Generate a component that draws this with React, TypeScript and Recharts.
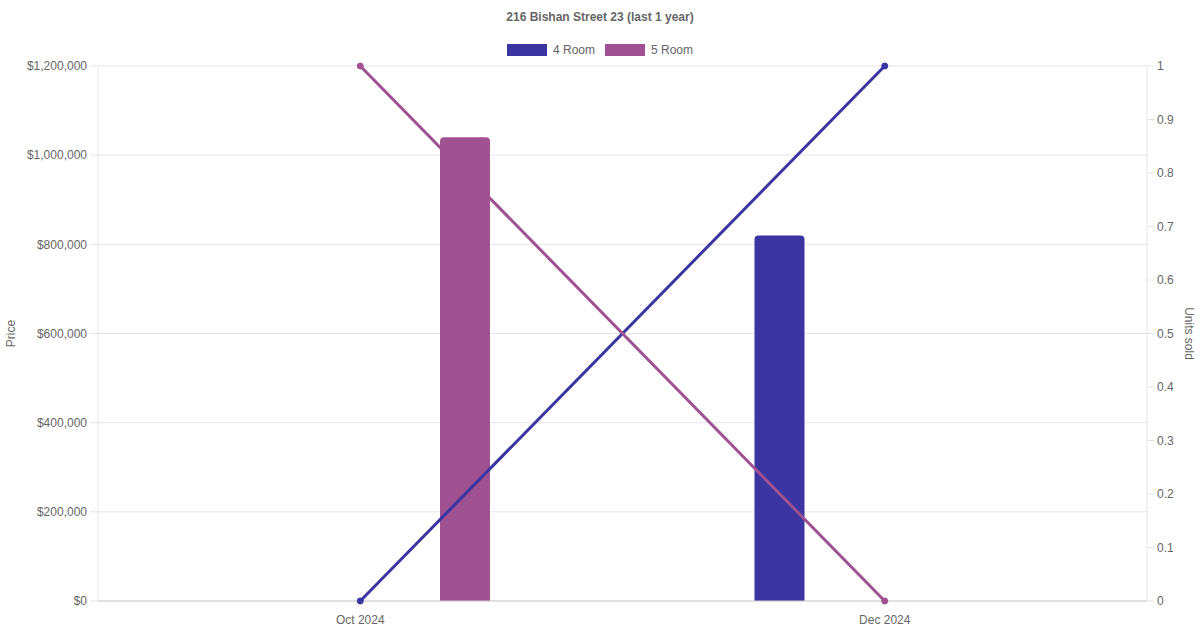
import React from "react";
import { Bar, CartesianGrid, ComposedChart, Line, XAxis, YAxis } from "recharts";

const months = ["Oct 2024", "Dec 2024"];
const price4Room = [null, 820000];
const price5Room = [1040000, null];
const units4Room = [0, 1];
const units5Room = [1, 0];
const priceTicks = [0, 200000, 400000, 600000, 800000, 1000000, 1200000];
const unitTicks = [0, 0.1, 0.2, 0.3, 0.4, 0.5, 0.6, 0.7, 0.8, 0.9, 1];

const series = [
  { name: "4 Room", color: "#3a35a0" },
  { name: "5 Room", color: "#a05192" },
];

const data = months.map((month, i) => ({
  month,
  price4: price4Room[i],
  price5: price5Room[i],
  units4: units4Room[i],
  units5: units5Room[i],
}));

const textColor = "#666";
const font = "'Liberation Sans', Arial, Helvetica, sans-serif";

function PriceLabel(props: any) {
  const { viewBox } = props;
  const cy = viewBox.y + viewBox.height / 2;
  return (
    <text
      x={11}
      y={cy}
      transform={`rotate(-90 11 ${cy})`}
      textAnchor="middle"
      dominantBaseline="central"
      fill={textColor}
      fontSize={12}
    >
      Price
    </text>
  );
}

function UnitsLabel(props: any) {
  const { viewBox } = props;
  const cy = viewBox.y + viewBox.height / 2;
  return (
    <text
      x={1189}
      y={cy}
      transform={`rotate(90 1189 ${cy})`}
      textAnchor="middle"
      dominantBaseline="central"
      fill={textColor}
      fontSize={12}
    >
      Units sold
    </text>
  );
}

export default function App() {
  return (
    <div style={{ position: "fixed", left: 0, top: 0, width: 1200, height: 630, background: "#fff", fontFamily: font }}>
      <div
        style={{
          position: "absolute",
          top: 9,
          width: 1200,
          textAlign: "center",
          fontSize: 12,
          fontWeight: "bold",
          color: textColor,
          lineHeight: "16px",
        }}
      >
        216 Bishan Street 23 (last 1 year)
      </div>
      <div
        style={{
          position: "absolute",
          top: 42,
          width: 1200,
          display: "flex",
          justifyContent: "center",
          fontSize: 12,
          color: textColor,
          lineHeight: "16px",
        }}
      >
        {series.map((s, i) => (
          <div key={s.name} style={{ display: "flex", alignItems: "center", marginLeft: i ? 10 : 0 }}>
            <div style={{ width: 40, height: 12, background: s.color, marginRight: 6 }} />
            <span>{s.name}</span>
          </div>
        ))}
      </div>
      <ComposedChart
        width={1200}
        height={630}
        data={data}
        margin={{ top: 66, right: 0, bottom: 0, left: 0 }}
        barGap={160}
        style={{ fontFamily: font }}
      >
        <CartesianGrid yAxisId="price" vertical={false} stroke="#e5e5e5" />
        <XAxis
          dataKey="month"
          height={29}
          tickLine={false}
          tickSize={0}
          tickMargin={14}
          axisLine={{ stroke: "#cfcfcf" }}
          tick={{ fill: textColor, fontSize: 12 }}
        />
        <YAxis
          yAxisId="price"
          width={98}
          domain={[0, 1200000]}
          ticks={priceTicks}
          interval={0}
          tickSize={8}
          tickMargin={3}
          tickLine={{ stroke: "#e5e5e5" }}
          axisLine={{ stroke: "#e5e5e5" }}
          tick={{ fill: textColor, fontSize: 12 }}
          tickFormatter={(v: number) => "$" + v.toLocaleString("en-US")}
          label={<PriceLabel />}
        />
        <YAxis
          yAxisId="units"
          orientation="right"
          width={53}
          domain={[0, 1]}
          ticks={unitTicks}
          interval={0}
          tickSize={7}
          tickMargin={3}
          tickLine={{ stroke: "#e5e5e5" }}
          axisLine={{ stroke: "#e5e5e5" }}
          tick={{ fill: textColor, fontSize: 12 }}
          label={<UnitsLabel />}
        />
        <Bar yAxisId="price" dataKey="price4" name="4 Room" fill={series[0].color} barSize={50} radius={[4, 4, 0, 0]} isAnimationActive={false} />
        <Bar yAxisId="price" dataKey="price5" name="5 Room" fill={series[1].color} barSize={50} radius={[4, 4, 0, 0]} isAnimationActive={false} />
        <Line
          yAxisId="units"
          type="linear"
          dataKey="units4"
          name="4 Room"
          stroke={series[0].color}
          strokeWidth={3}
          dot={{ r: 3, fill: series[0].color, stroke: series[0].color, strokeWidth: 1 }}
          isAnimationActive={false}
        />
        <Line
          yAxisId="units"
          type="linear"
          dataKey="units5"
          name="5 Room"
          stroke={series[1].color}
          strokeWidth={3}
          dot={{ r: 3, fill: series[1].color, stroke: series[1].color, strokeWidth: 1 }}
          isAnimationActive={false}
        />
      </ComposedChart>
    </div>
  );
}
